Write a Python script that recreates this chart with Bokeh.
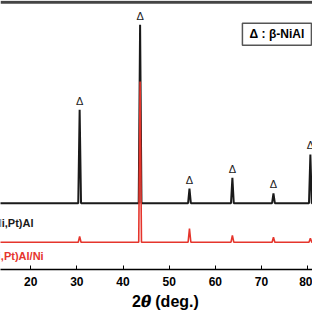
from bokeh.plotting import figure
from bokeh.models import Range1d, ColumnDataSource
from bokeh.core.properties import value
from bokeh.embed import file_html
from bokeh.resources import INLINE

# ---- data ----
scan_start, scan_end = 10.0, 90.0
peak_2theta = [30.6, 43.7, 54.4, 63.7, 72.6, 80.6]
black_heights = [96, 183, 15, 26, 10, 50]      # (Ni,Pt)Al
red_heights = [6, 165, 14, 7, 5, 4]            # (Ni,Pt)Al/Ni
black_offset = 68
red_offset = 28
tick_values = [20, 30, 40, 50, 60, 70, 80]
black_name = "(Ni,Pt)Al"
red_name = "(Ni,Pt)Al/Ni"
legend_text = "\u0394 : \u03b2-NiAl"
peak_mark = "\u0394"
x_title = "\u00a0\u00a0\u00a0\u00a02\U0001D73D (deg.)"

BLACK = "#1a1a1a"
RED = "#e5352c"
FONT = "Liberation Sans"
HALF = 0.3


def pattern(heights, offset):
    xs, ys = [scan_start], [offset]
    for c, h in zip(peak_2theta, heights):
        xs += [c - HALF, c, c + HALF]
        ys += [offset, offset + h, offset]
    xs.append(scan_end)
    ys.append(offset)
    return xs, ys


p = figure(width=312, height=312, output_backend="svg", toolbar_location=None,
           x_range=Range1d(13.45, 81.06), y_range=Range1d(0, 276),
           y_axis_location=None, min_border_left=0, min_border_right=0,
           min_border_top=0, min_border_bottom=43)
p.grid.visible = False
p.outline_line_color = None
p.background_fill_color = "white"
p.border_fill_color = "white"

# top frame line across the whole x range
p.segment(x0=[p.x_range.start], x1=[p.x_range.end], y0=[274.3], y1=[274.3],
          line_color="#444444", line_width=3)

bx, by = pattern(black_heights, black_offset)
rx, ry = pattern(red_heights, red_offset)
p.line(bx, by, line_color=BLACK, line_width=2)
p.line(rx, ry, line_color=RED, line_width=1.6)

# peak markers
mark_src = ColumnDataSource(dict(
    x=peak_2theta,
    y=[black_offset + h for h in black_heights],
    t=[peak_mark] * len(peak_2theta)))
p.text("x", "y", text="t", source=mark_src, text_align="center",
       text_baseline="middle", y_offset=-9, text_font=value(FONT),
       text_font_size="11px", text_color="#222222")

# series labels (cut by the left edge like the reference)
p.text([11.2], [black_offset - 20], text=[black_name], text_align="left",
       text_baseline="middle", text_font=value(FONT), text_font_size="11px",
       text_font_style="bold", text_color=BLACK)
p.text([10.35], [red_offset - 14], text=[red_name], text_align="left",
       text_baseline="middle", text_font=value(FONT), text_font_size="11px",
       text_font_style="bold", text_color=RED)

# legend box
p.rect([73.35], [241.5], width=69, height=22, width_units="screen",
       height_units="screen", fill_color="white", line_color="#555555",
       line_width=1.5)
p.text([73.35], [241.5], text=[legend_text], text_align="center",
       text_baseline="middle", text_font=value(FONT), text_font_size="12px",
       text_font_style="bold", text_color="black")

ax = p.below[0]
ax.ticker = tick_values
ax.ticker.num_minor_ticks = 5
ax.axis_line_color = "black"
ax.axis_line_width = 1.5
ax.major_tick_in = 4
ax.major_tick_out = 0
ax.minor_tick_in = 2
ax.minor_tick_out = 0
ax.major_tick_line_color = "black"
ax.minor_tick_line_color = "black"
ax.major_label_text_font = FONT
ax.major_label_text_font_size = "12px"
ax.major_label_text_font_style = "bold"
ax.major_label_text_color = "black"
ax.major_label_standoff = 7
ax.axis_label = x_title
ax.axis_label_text_font = FONT
ax.axis_label_text_font_size = "16px"
ax.axis_label_text_font_style = "bold"
ax.axis_label_text_color = "black"
ax.axis_label_standoff = 4

open("out.html", "w").write(file_html(p, INLINE))
